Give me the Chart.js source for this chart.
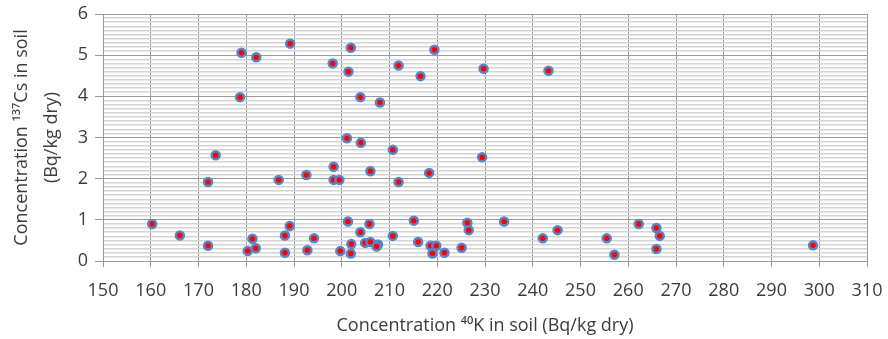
<!DOCTYPE html>
<html>
<head>
<meta charset="utf-8">
<script src="https://cdn.jsdelivr.net/npm/chart.js@4.4.1/dist/chart.umd.min.js"></script>
<style>
  html, body { margin: 0; padding: 0; background: #ffffff; }
  #wrap { width: 888px; height: 339px; }
</style>
</head>
<body>
<div id="wrap"><canvas id="soilChart" width="888" height="339"></canvas></div>
<script>
// Data: 40K (x) and 137Cs (y), Bq/kg dry
const potassium40 = [
  160.3, 166.1, 172.0, 173.6, 172.0, 179.0, 182.1, 178.7, 186.8, 189.2,
  189.1, 188.1, 181.3, 182.0, 180.3, 188.1, 192.6, 192.8, 194.2, 201.1,
  204.0, 210.7, 229.4, 198.3, 198.3, 199.5, 206.0, 211.9, 218.3, 201.3,
  205.8, 203.9, 202.0, 199.7, 201.9, 204.9, 206.0, 207.6, 207.3, 210.7,
  215.1, 216.0, 218.6, 219.8, 219.0, 221.5, 225.1, 226.3, 226.6, 234.0,
  201.9, 198.1, 201.4, 203.9, 208.0, 211.9, 216.5, 219.4, 229.7, 243.3,
  242.1, 245.2, 255.5, 257.1, 262.2, 265.9, 266.6, 265.9, 298.7
];
const cesium137 = [
  0.90, 0.62, 0.37, 2.57, 1.92, 5.06, 4.95, 3.98, 1.97, 5.28,
  0.85, 0.62, 0.54, 0.31, 0.24, 0.20, 2.09, 0.26, 0.55, 2.98,
  2.87, 2.70, 2.52, 2.29, 1.97, 1.97, 2.18, 1.92, 2.14, 0.96,
  0.90, 0.70, 0.41, 0.24, 0.18, 0.44, 0.46, 0.40, 0.35, 0.61,
  0.98, 0.46, 0.37, 0.37, 0.18, 0.20, 0.32, 0.93, 0.75, 0.96,
  5.18, 4.80, 4.60, 3.98, 3.85, 4.75, 4.49, 5.13, 4.67, 4.62,
  0.55, 0.75, 0.55, 0.15, 0.90, 0.80, 0.61, 0.29, 0.38
];

// Axis setup
const xMin = 150, xMax = 310, xStep = 10;
const yMin = 0, yMax = 6, yMinorStep = 0.1;
const xTitle = "Concentration \u2074\u2070K in soil (Bq/kg dry)";
const yTitle = ["Concentration \u00b9\u00b3\u2077Cs in soil", "(Bq/kg dry)"];

const points = potassium40.map((k, i) => ({ x: k, y: cesium137[i] }));

const textColor = "#3c3c3c";
const fontFamily = "'Open Sans', sans-serif";

function isWhole(v) {
  return Math.abs(v - Math.round(v)) < 1e-6;
}

const ctx = document.getElementById("soilChart").getContext("2d");
const soilChart = new Chart(ctx, {
  type: "scatter",
  data: {
    datasets: [{
      data: points,
      pointRadius: 4,
      pointHoverRadius: 4,
      pointBackgroundColor: "#ff0000",
      pointBorderColor: "#5686c8",
      pointBorderWidth: 2.5
    }]
  },
  options: {
    responsive: false,
    maintainAspectRatio: false,
    animation: false,
    layout: { padding: { top: 14, right: 21, left: 0, bottom: 0 } },
    plugins: {
      legend: { display: false },
      tooltip: { enabled: false }
    },
    scales: {
      x: {
        type: "linear",
        min: xMin,
        max: xMax,
        ticks: {
          stepSize: xStep,
          color: textColor,
          font: { family: fontFamily, size: 18 },
          padding: 13,
          maxRotation: 0
        },
        grid: { color: "#9a9a9a", lineWidth: 1, tickLength: 6, tickColor: "#9a9a9a" },
        border: { color: "#9a9a9a" },
        title: {
          display: true,
          text: xTitle,
          color: textColor,
          font: { family: fontFamily, size: 18 },
          padding: { top: 0, bottom: 2 }
        },
        afterFit: (scale) => {
          scale.height = 78;
          // let the layout padding alone decide the plot's right edge
          scale.paddingLeft = 0;
          scale.paddingRight = 0;
        }
      },
      y: {
        type: "linear",
        min: yMin,
        max: yMax,
        ticks: {
          stepSize: yMinorStep,
          autoSkip: false,
          color: textColor,
          font: { family: fontFamily, size: 18 },
          padding: 7,
          callback: (v) => isWhole(v) ? Math.round(v) : ""
        },
        grid: {
          color: (c) => isWhole(c.tick.value) ? "#9a9a9a" : "#d4d4d4",
          lineWidth: (c) => isWhole(c.tick.value) ? 1 : 1.5,
          tickLength: 8,
          tickColor: (c) => isWhole(c.tick.value) ? "#9a9a9a" : "rgba(0,0,0,0)"
        },
        border: { color: "#9a9a9a" },
        title: {
          display: true,
          text: yTitle,
          color: textColor,
          font: { family: fontFamily, size: 18, lineHeight: 1.65 },
          padding: { top: 7, bottom: 0 }
        },
        afterFit: (scale) => {
          scale.width = 103;
          scale.paddingTop = 0;
          scale.paddingBottom = 0;
        }
      }
    }
  }
});
</script>
</body>
</html>
